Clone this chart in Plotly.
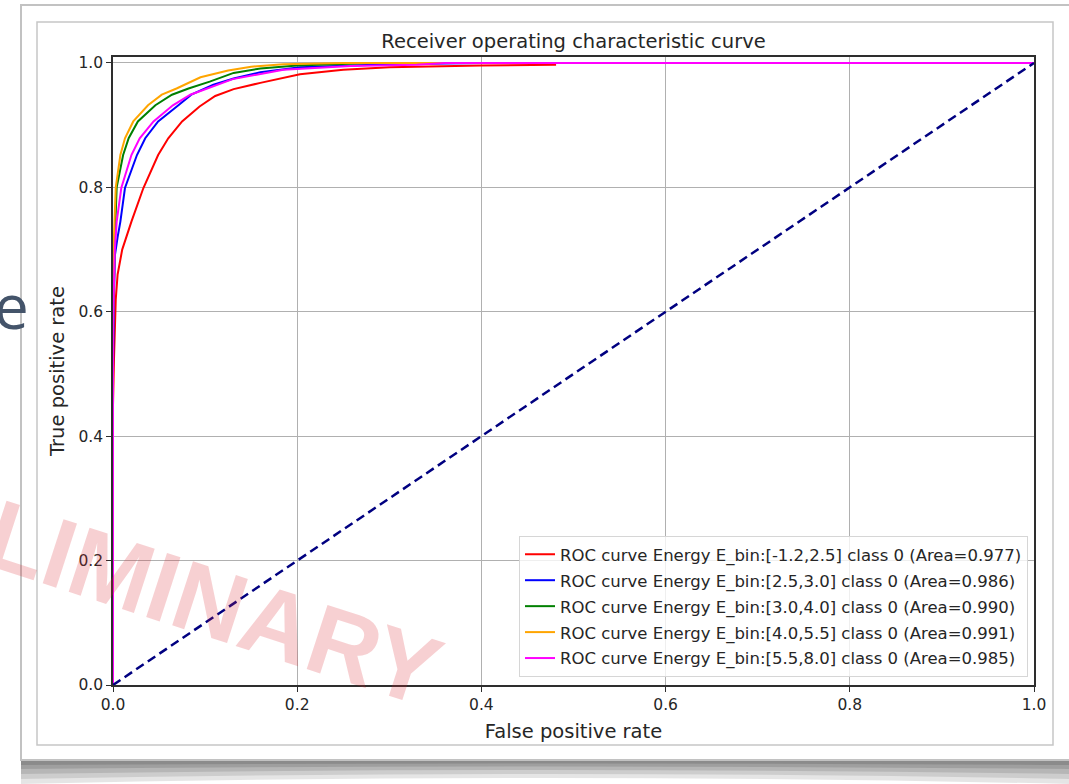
import plotly.graph_objects as go

# ROC curves per energy bin (false positive rate / true positive rate)
fpr_bin1 = [0.0, 0.0, 0.001, 0.002, 0.003, 0.005, 0.010, 0.020, 0.033, 0.049, 0.060, 0.075, 0.094,
            0.111, 0.131, 0.160, 0.185, 0.203, 0.250, 0.300, 0.400, 0.480, 0.480, 1.0]
tpr_bin1 = [0.0, 0.45, 0.52, 0.57, 0.62, 0.66, 0.700, 0.745, 0.799, 0.852, 0.879, 0.906, 0.930,
            0.947, 0.958, 0.968, 0.976, 0.982, 0.989, 0.993, 0.996, 0.997, 1.0, 1.0]

fpr_bin2 = [0.0, 0.0, 0.001, 0.002, 0.005, 0.008, 0.013, 0.026, 0.035, 0.049, 0.071, 0.085, 0.109,
            0.131, 0.160, 0.203, 0.300, 0.400, 1.0]
tpr_bin2 = [0.0, 0.50, 0.62, 0.69, 0.72, 0.745, 0.799, 0.852, 0.879, 0.906, 0.932, 0.949, 0.965,
            0.975, 0.985, 0.993, 0.998, 1.0, 1.0]

fpr_bin3 = [0.0, 0.0, 0.002, 0.004, 0.011, 0.017, 0.027, 0.046, 0.064, 0.082, 0.105, 0.131, 0.160,
            0.200, 0.280, 1.0]
tpr_bin3 = [0.0, 0.55, 0.72, 0.80, 0.852, 0.879, 0.906, 0.932, 0.949, 0.959, 0.970, 0.984, 0.991,
            0.996, 1.0, 1.0]

fpr_bin4 = [0.0, 0.0, 0.001, 0.003, 0.008, 0.013, 0.022, 0.038, 0.053, 0.069, 0.095, 0.125, 0.150,
            0.185, 0.250, 1.0]
tpr_bin4 = [0.0, 0.60, 0.72, 0.80, 0.852, 0.879, 0.906, 0.932, 0.949, 0.959, 0.977, 0.988, 0.994,
            0.998, 1.0, 1.0]

fpr_bin5 = [0.0, 0.0, 0.001, 0.002, 0.004, 0.009, 0.020, 0.029, 0.044, 0.065, 0.084, 0.102, 0.130,
            0.185, 0.258, 0.330, 0.360, 1.0]
tpr_bin5 = [0.0, 0.55, 0.64, 0.70, 0.745, 0.799, 0.852, 0.879, 0.906, 0.932, 0.949, 0.959, 0.974,
            0.989, 0.995, 0.997, 1.0, 1.0]

bin_labels = ["[-1.2,2.5]", "[2.5,3.0]", "[3.0,4.0]", "[4.0,5.5]", "[5.5,8.0]"]
areas = [0.977, 0.986, 0.990, 0.991, 0.985]
colors = ["#ff0000", "#0000ff", "#008000", "#ffa500", "#ff00ff"]
curves = [(fpr_bin1, tpr_bin1), (fpr_bin2, tpr_bin2), (fpr_bin3, tpr_bin3),
          (fpr_bin4, tpr_bin4), (fpr_bin5, tpr_bin5)]

diag_x = [0.0, 1.0]
diag_y = [0.0, 1.0]
ticks = [0.0, 0.2, 0.4, 0.6, 0.8, 1.0]

W, H = 1069, 784
ML, MR, MT, MB = 113, 35, 57, 99
PW = W - ML - MR
PH = H - MT - MB


def px(x):
    return (x - ML) / PW


def py(y):
    return (H - MB - y) / PH


FONT = "DejaVu Sans"
TXT = "#262626"

fig = go.Figure()
for i, (fx, ty) in enumerate(curves):
    fig.add_trace(go.Scatter(
        x=fx, y=ty, mode="lines",
        line=dict(color=colors[i], width=2),
        name=f"ROC curve Energy E_bin:{bin_labels[i]} class 0 (Area={areas[i]:.3f})",
        legendgroup=f"g{i}",
    ))

fig.add_trace(go.Scatter(
    x=diag_x, y=diag_y, mode="lines", showlegend=False,
    line=dict(color="#000080", width=2.5, dash="9px,5px"),
))

shapes = []
# page shadow under the card
for d, k, a in [(24, 12, 0.10), (19, 9, 0.10), (14, 6, 0.11), (9, 4, 0.12), (5, 2, 0.12)]:
    x0, x1 = px(21), px(1069)
    y0, yb, ym = py(760), py(760 + d), py(760 + k)
    shapes.append(dict(
        type="path", xref="paper", yref="paper", layer="below",
        path=f"M {x0},{y0} L {x1},{y0} L {x1},{yb} Q {(x0 + x1) / 2},{ym} {x0},{yb} Z",
        fillcolor=f"rgba(0,0,0,{a})", line=dict(width=0),
    ))
# card
shapes.append(dict(type="rect", xref="paper", yref="paper", layer="below",
                   x0=px(21), x1=px(1072), y0=py(760), y1=py(5),
                   fillcolor="white", line=dict(color="#c2c2c2", width=2)))
# figure frame inside the card
shapes.append(dict(type="rect", xref="paper", yref="paper", layer="below",
                   x0=px(37), x1=px(1053), y0=py(745), y1=py(22),
                   line=dict(color="#c6c6c6", width=1.5)))

annotations = [
    dict(text="<b>PRELIMINARY</b>", xref="paper", yref="paper", x=px(118), y=py(572),
         xanchor="center", yanchor="middle", showarrow=False, textangle=18,
         font=dict(family="Liberation Sans", size=98, color="rgba(220,40,50,0.22)")),
    dict(text="e", xref="paper", yref="paper", x=px(31), y=py(305),
         xanchor="right", yanchor="middle", showarrow=False,
         font=dict(family="Open Sans", size=62, color="#44546A")),
]

axis_common = dict(
    showgrid=True, gridcolor="#b0b0b0", gridwidth=1,
    showline=True, linecolor="#2e2e2e", linewidth=1.5, mirror=True,
    ticks="outside", ticklen=5, tickcolor="#2e2e2e",
    tickvals=ticks, ticktext=[f"{t:.1f}" for t in ticks],
    tickfont=dict(family=FONT, size=15.5, color=TXT),
    zeroline=False,
)

fig.update_layout(
    width=W, height=H,
    margin=dict(l=ML, r=MR, t=MT, b=MB, autoexpand=False),
    paper_bgcolor="white", plot_bgcolor="white",
    title=dict(text="Receiver operating characteristic curve", x=px(573.5), xref="paper",
               y=(H - 41) / H, yanchor="middle", xanchor="center",
               font=dict(family=FONT, size=19.5, color=TXT)),
    xaxis=dict(range=[0, 1.0], title=dict(text="False positive rate", standoff=11,
                                         font=dict(family=FONT, size=19.5, color=TXT)),
               **axis_common),
    yaxis=dict(range=[0, 1.0096], title=dict(text="True positive rate", standoff=9,
                                            font=dict(family=FONT, size=19.5, color=TXT)),
               **axis_common),
    legend=dict(x=0.9935, y=0.0127, xanchor="right", yanchor="bottom",
                bgcolor="rgba(255,255,255,0.8)", bordercolor="#d6d6d6", borderwidth=1,
                font=dict(family=FONT, size=16.5, color=TXT), tracegroupgap=1.5),
    shapes=shapes,
    annotations=annotations,
)

fig.write_html("out.html")
